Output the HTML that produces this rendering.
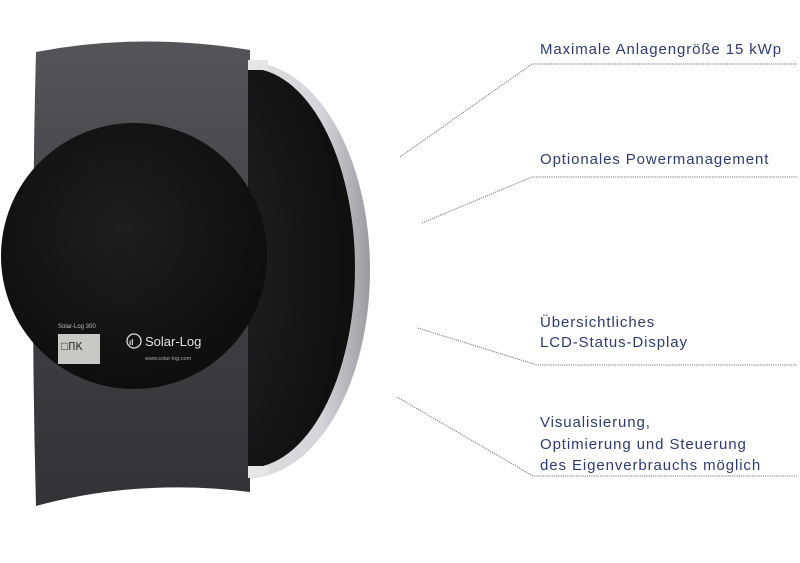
<!DOCTYPE html>
<html><head><meta charset="utf-8"><style>
html,body{margin:0;padding:0;background:#fff;width:800px;height:563px;overflow:hidden}
</style></head><body>
<svg width="800" height="563" viewBox="0 0 800 563" xmlns="http://www.w3.org/2000/svg" font-family="Liberation Sans, sans-serif">
<defs>
<linearGradient id="plate" x1="0" y1="0" x2="0" y2="1">
<stop offset="0" stop-color="#545559"/><stop offset="0.5" stop-color="#404145"/><stop offset="1" stop-color="#323337"/></linearGradient>
<linearGradient id="silver" x1="0" y1="0" x2="1" y2="0">
<stop offset="0" stop-color="#f0f0f2"/><stop offset="0.8" stop-color="#d4d5d8"/><stop offset="1" stop-color="#9a9ba0"/></linearGradient>
<radialGradient id="disc" cx="0.45" cy="0.4" r="0.7">
<stop offset="0" stop-color="#1e1e1f"/><stop offset="1" stop-color="#0b0b0c"/></radialGradient>
<radialGradient id="rdisc" cx="0.2" cy="0.5" r="0.9">
<stop offset="0" stop-color="#252527"/><stop offset="1" stop-color="#0c0c0d"/></radialGradient>
<clipPath id="right"><rect x="248" y="0" width="200" height="563"/></clipPath>
</defs>
<path d="M36 52 Q140 32 250 50 L250 492 Q140 478 36 506 Q30 280 36 52 Z" fill="url(#plate)"/>
<g clip-path="url(#right)">
<ellipse cx="248" cy="270" rx="122" ry="208" fill="url(#silver)"/>
<ellipse cx="248" cy="268" rx="107" ry="200" fill="url(#rdisc)"/>
</g>
<rect x="248" y="60" width="20" height="10" fill="#e6e6e8"/>
<rect x="248" y="466" width="20" height="10" fill="#e6e6e8"/>
<circle cx="134" cy="256" r="133" fill="url(#disc)"/>
<text x="58" y="328" font-size="6" fill="#bbb">Solar-Log 300</text>
<rect x="58" y="334" width="42" height="30" fill="#c8c9c4"/>
<text x="61" y="350" font-size="12" fill="#333" font-family="Liberation Mono, monospace">□ΠK</text>
<circle cx="134" cy="341" r="7" fill="none" stroke="#ddd" stroke-width="1.3"/>
<text x="129" y="345" font-size="8" fill="#ddd" font-weight="bold">ıl</text>
<text x="145" y="346" font-size="13" fill="#e4e4e4">Solar-Log</text>
<text x="145" y="360" font-size="5.5" fill="#aaa">www.solar-log.com</text>
<g fill="none" stroke="#777" stroke-width="1" stroke-dasharray="1.2 1">
<polyline points="400,157 532,64 797,64"/>
<polyline points="422,223 532,177 797,177"/>
<polyline points="418,328 537,365 797,365"/>
<polyline points="397,397 533,476 797,476"/>
</g>
<g fill="#2d3b74" font-size="15" letter-spacing="0.9">
<text x="540" y="54">Maximale Anlagengröße 15 kWp</text>
<text x="540" y="164">Optionales Powermanagement</text>
<text x="540" y="327">Übersichtliches</text>
<text x="540" y="347">LCD-Status-Display</text>
<text x="540" y="427">Visualisierung,</text>
<text x="540" y="449">Optimierung und Steuerung</text>
<text x="540" y="470">des Eigenverbrauchs möglich</text>
</g>
</svg>
</body></html>
